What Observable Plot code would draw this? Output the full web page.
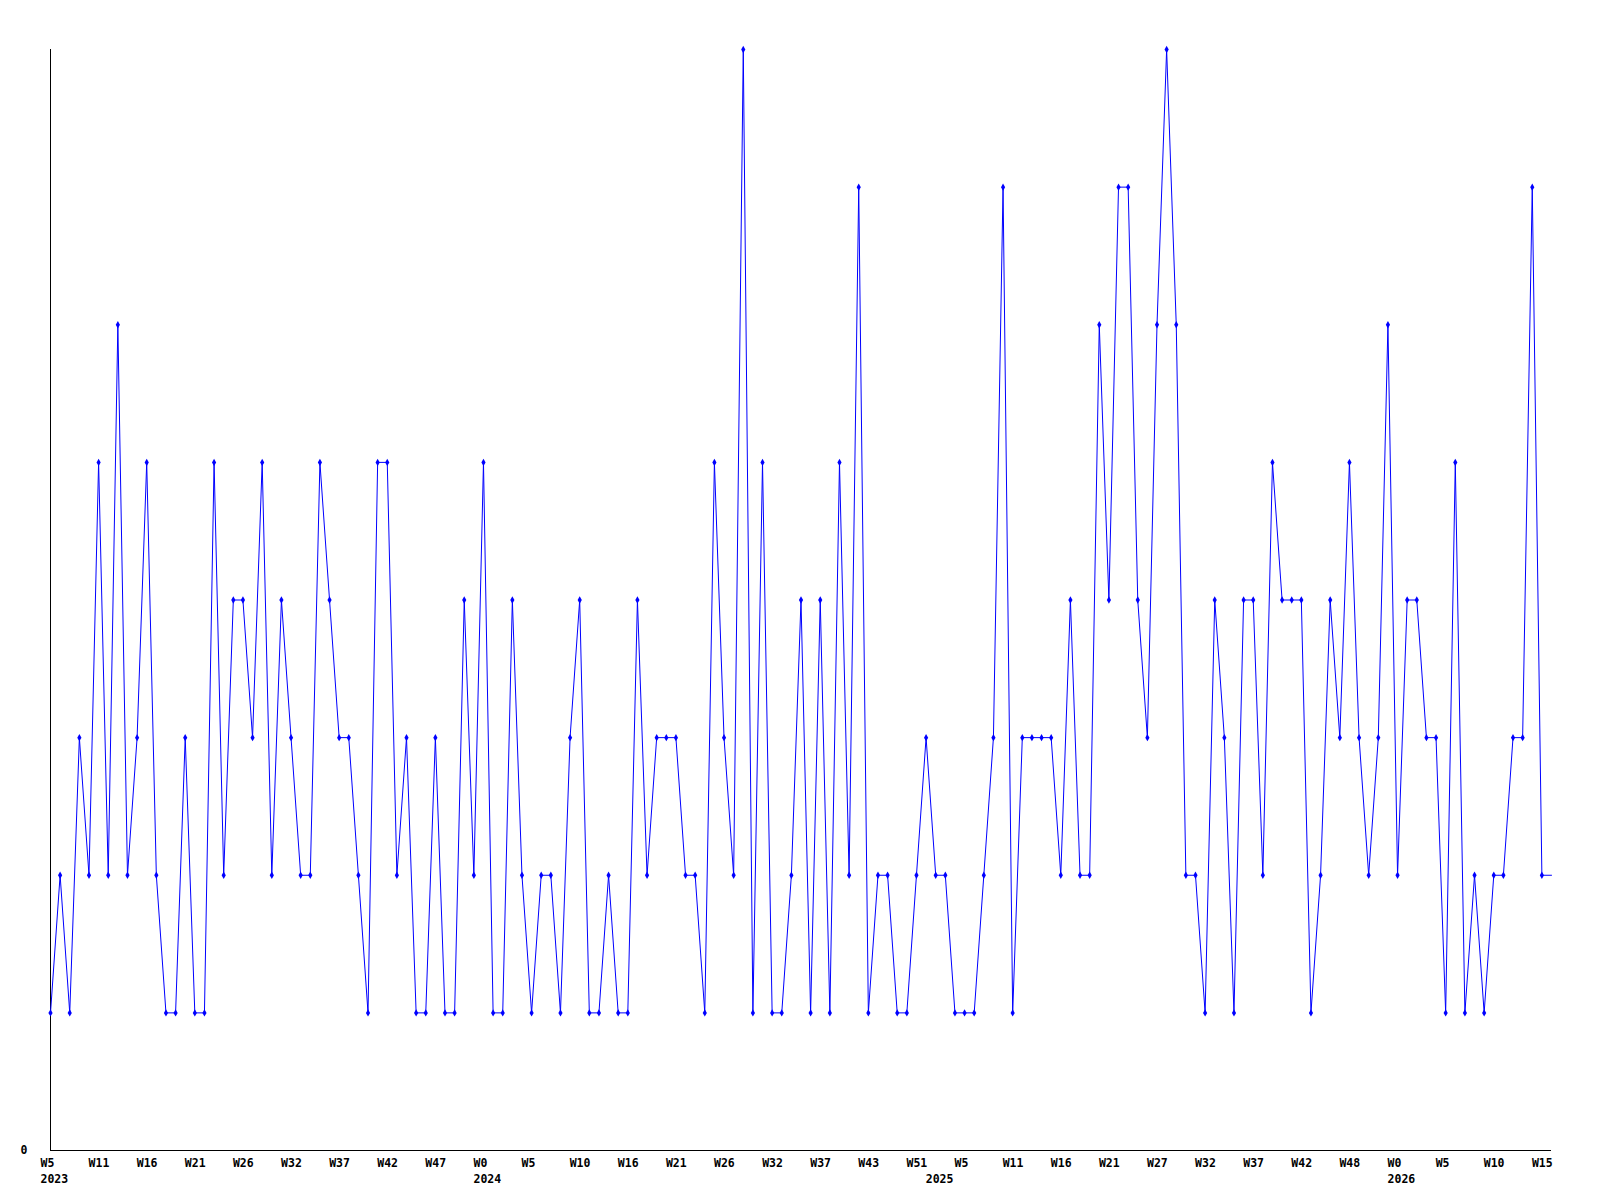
<!DOCTYPE html>
<html>
<head>
<meta charset="utf-8">
<script src="https://cdn.jsdelivr.net/npm/d3@7"></script>
<script src="https://cdn.jsdelivr.net/npm/@observablehq/plot@0.6"></script>
<style>
  html, body { margin: 0; padding: 0; background: #ffffff; }
  #chart { width: 1600px; height: 1200px; }
</style>
</head>
<body>
<div id="chart"></div>
<script>
// Weekly counts (weeks with zero counts omitted), plotted by row index
const values = [
  1, 2, 1, 3, 2, 5, 2, 6, 2, 3,
  5, 2, 1, 1, 3, 1, 1, 5, 2, 4,
  4, 3, 5, 2, 4, 3, 2, 2, 5, 4,
  3, 3, 2, 1, 5, 5, 2, 3, 1, 1,
  3, 1, 1, 4, 2, 5, 1, 1, 4, 2,
  1, 2, 2, 1, 3, 4, 1, 1, 2, 1,
  1, 4, 2, 3, 3, 3, 2, 2, 1, 5,
  3, 2, 8, 1, 5, 1, 1, 2, 4, 1,
  4, 1, 5, 2, 7, 1, 2, 2, 1, 1,
  2, 3, 2, 2, 1, 1, 1, 2, 3, 7,
  1, 3, 3, 3, 3, 2, 4, 2, 2, 6,
  4, 7, 7, 4, 3, 6, 8, 6, 2, 2,
  1, 4, 3, 1, 4, 4, 2, 5, 4, 4,
  4, 1, 2, 4, 3, 5, 3, 2, 3, 6,
  2, 4, 4, 3, 3, 1, 5, 1, 2, 1,
  2, 2, 3, 3, 7, 2, 2
];
// Tick labels, one every 5 rows
const tickLabels = [
  "W5", "W11", "W16", "W21", "W26", "W32", "W37", "W42", "W47", "W0",
  "W5", "W10", "W16", "W21", "W26", "W32", "W37", "W43", "W51", "W5",
  "W11", "W16", "W21", "W27", "W32", "W37", "W42", "W48", "W0", "W5",
  "W10", "W15"
];
const tickStep = 5;
// Year labels and the row where each year begins
const years = ["2023", "2024", "2025", "2026"];
const yearRows = [0, 45, 92, 140];
const yLabels = ["0"];

const rows = values.map((v, i) => ({i, v}));
const markerRows = rows.slice(0, -1);
const ticks = tickLabels.map((t, k) => ({x: k * tickStep, t}));
const yearData = years.map((y, k) => ({x: yearRows[k], y}));

const chart = Plot.plot({
  width: 1600,
  height: 1200,
  marginLeft: 50,
  marginRight: 49,
  marginTop: 49,
  marginBottom: 50,
  x: {type: "linear", domain: [0, values.length - 1], axis: null},
  y: {type: "linear", domain: [0, 8], axis: null},
  style: {
    background: "#ffffff",
    color: "#000000",
    fontFamily: "'DejaVu Sans Mono', monospace",
    fontWeight: "bold",
    fontSize: "11.5px"
  },
  marks: [
    Plot.ruleX([0], {stroke: "#000000", strokeWidth: 1}),
    Plot.ruleY([0], {stroke: "#000000", strokeWidth: 1}),
    Plot.line(rows, {x: "i", y: "v", stroke: "#0000ff", strokeWidth: 1}),
    Plot.dot(markerRows, {x: "i", y: "v", symbol: "diamond", r: 2.2, fill: "#0000ff", stroke: "none"}),
    Plot.text(ticks, {x: "x", y: 0, text: "t", textAnchor: "start", dx: -10, dy: 13, fill: "#000000"}),
    Plot.text(yearData, {x: "x", y: 0, text: "y", textAnchor: "start", dx: -10, dy: 28.5, fill: "#000000"}),
    Plot.text(yLabels, {x: 0, y: 0, text: d => d, textAnchor: "start", dx: -30, dy: 0, fill: "#000000"})
  ]
});
document.getElementById("chart").appendChild(chart);
</script>
</body>
</html>
